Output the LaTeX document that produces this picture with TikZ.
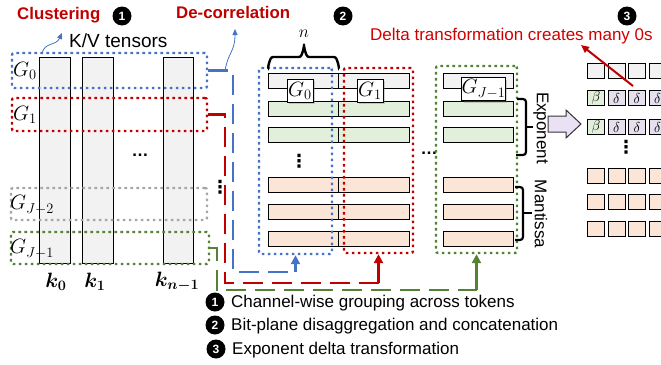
\documentclass[tikz,border=0pt]{standalone}
\usepackage[no-math]{fontspec}
\setmainfont{Liberation Sans}
\newfontfamily\dejavu{DejaVu Sans}
\usepackage{bm}
\usetikzlibrary{arrows.meta,shadows,calc}
\definecolor{cblue}{HTML}{4472C4}
\definecolor{cred}{HTML}{C00000}
\definecolor{cgreen}{HTML}{548235}
\definecolor{cgray}{HTML}{A6A6A6}
\definecolor{fgray}{HTML}{F2F2F2}
\definecolor{fgreen}{HTML}{E2EFDA}
\definecolor{forange}{HTML}{FBE5D6}
\definecolor{flav}{HTML}{E6E0EE}
\definecolor{farrow}{HTML}{EBE1F5}
\definecolor{tred}{HTML}{D00000}
\begin{document}
\begin{tikzpicture}[x=1pt,y=-1pt,
  col/.style={draw, line width=1.2pt, fill=fgray, minimum width=31pt, minimum height=206pt, inner sep=0pt, anchor=north west},
  grp/.style={draw, line width=2.4pt, dash pattern=on 2.6pt off 3.4pt, rounded corners=2pt, inner sep=0pt},
  bar/.style={draw, line width=1.3pt, minimum height=15pt, inner sep=0pt, anchor=north west},
  cell/.style={draw, line width=1.2pt, minimum width=17pt, minimum height=15pt, inner sep=0pt, anchor=north west, font=\fontsize{14.4}{14.4}\selectfont},
  lbl/.style={draw, fill=white, line width=0.9pt, inner sep=0pt, minimum height=23pt, font=\fontsize{20.74}{20.74}\selectfont, drop shadow={shadow xshift=2pt, shadow yshift=-2pt, opacity=0.35}},
  glab/.style={font=\fontsize{20.74}{20.74}\selectfont, inner sep=0pt},
  numc/.style={circle, fill=black, text=white, inner sep=0pt, minimum size=19pt, font=\bfseries\fontsize{12}{12}\selectfont},
  conn/.style={line width=2.6pt, dash pattern=on 20pt off 9pt},
  solidtip/.style={line width=2.6pt, -{Triangle[length=9pt,width=9pt]}},
  thinarr/.style={cblue, line width=0.8pt, -{Triangle[length=6pt,width=5pt]}},
  sqbrace/.style={line width=2.2pt, rounded corners=3pt},
  vdot/.style={inner sep=0pt, font=\dejavu\bfseries\fontsize{18}{18}\selectfont},
  txt/.style={inner sep=0pt, font=\fontsize{17}{20}\selectfont}
]
\useasboundingbox (0,0) rectangle (661,364);

% ---------- left panel ----------
\node[col] (k0) at (39,57) {};
\node[col] (k1) at (82,57) {};
\node[col, minimum width=30pt] (k2) at (163,57) {};

\node[grp, draw=cblue, minimum width=195pt, minimum height=35pt] (g0) at (109.5,70.5) {};
\node[grp, draw=cred, minimum width=195pt, minimum height=33pt] (g1) at (109.5,114.5) {};
\node[grp, draw=cgray, minimum width=196pt, minimum height=32pt] (gj2) at (109,204) {};
\node[grp, draw=cgreen, minimum width=198pt, minimum height=32pt] (gj1) at (110,248) {};

\node[glab] (lg0) at (25,71) {$G_0$};
\node[glab] (lg1) at (25,115) {$G_1$};
\node[glab] (lgj2) at (32,205) {$G_{J-2}$};
\node[glab] (lgj1) at (32,249) {$G_{J-1}$};

\node[txt, font=\bfseries\fontsize{17}{17}\selectfont] (hd1) at (140,155) {…};

\node[glab] (lk0) at (56,282) {$\bm{k_0}$};
\node[glab] (lk1) at (95,282) {$\bm{k_1}$};
\node[glab] (lk2) at (177,282) {$\bm{k_{n-1}}$};

\node[txt, anchor=base west, font=\fontsize{19}{19}\selectfont] (kv) at (69,47) {K/V tensors};
\coordinate (kvs) at (42,53);
\coordinate (kve) at (62,33);
\draw[thinarr] (kvs) .. controls (45,42) and (56,46) .. (kve);

\node[txt, anchor=base west, text=cred, font=\bfseries\fontsize{16.8}{17}\selectfont] (clu) at (17,19.5) {Clustering};
\node[numc] (n1) at (122,16) {1};
\node[txt, anchor=base west, text=cred, font=\bfseries\fontsize{16.8}{17}\selectfont] (dec) at (176,18) {De-correlation};
\node[numc] (n2) at (343,16) {2};

\node[vdot] (vd1) at (220,187) {⋮};

% ---------- middle panel ----------
\foreach \yy/\cc [count=\i] in {73/fgray,101/fgreen,127/fgreen,177/forange,204/forange,231/forange}{
  \node[bar, fill=\cc, minimum width=70pt] (a\i) at (268,\yy) {};
  \node[bar, fill=\cc, minimum width=71pt] (b\i) at (338,\yy) {};
  \node[bar, fill=\cc, minimum width=70pt] (c\i) at (443,\yy) {};
}
\node[vdot] (vd2) at (299,161) {⋮};
\node[txt, font=\bfseries\fontsize{17}{17}\selectfont] (hd2) at (429,153) {…};

\node[grp, draw=cblue, minimum width=73pt, minimum height=186pt] (bluebox) at (295.5,161) {};
\node[grp, draw=cred, minimum width=69pt, minimum height=185pt] (redbox) at (378.5,160.5) {};
\node[grp, draw=cgreen, minimum width=81pt, minimum height=187pt] (greenbox) at (476.5,159.5) {};

\node[lbl, minimum width=26pt] (m0) at (300,90.5) {$G_0$};
\node[lbl, minimum width=26pt] (m1) at (370,90.5) {$G_1$};
\node[lbl, minimum width=43pt] (mj) at (483.5,89) {$G_{J-1}$};

% brace n
\draw[line width=2.4pt] (268,67) to[out=-90,in=180] (273,57) -- (299,57) to[out=0,in=90] (304,47) to[out=90,in=180] (309,57) -- (334,57) to[out=0,in=-90] (339,67);
\node[txt, anchor=base, font=\fontsize{18}{18}\selectfont] (nn) at (304,37) {$n$};

% exponent / mantissa braces
\draw[sqbrace] (517,99) -- (526,99) -- (526,155) -- (516,155);
\draw[sqbrace] (526,127) -- (533,127);
\draw[sqbrace] (515,187) -- (523,187) -- (523,240) -- (515,240);
\draw[sqbrace] (523,213) -- (532,213);
\node[txt, rotate=-90] (expo) at (541,128) {Exponent};
\node[txt, rotate=-90] (mant) at (541,214) {Mantissa};

% big arrow
\draw[fill=farrow, draw=black!80, line width=1pt, line join=miter] (548,116) -- (566,116) -- (566,110) -- (581,124) -- (566,138) -- (566,132) -- (548,132) -- cycle;

% ---------- right grid ----------
\foreach \yy/\cc [count=\i] in {63/fgray,168/forange,194/forange,221/forange}{
  \foreach \xx [count=\j] in {587,607.5,628,648.5}{
    \node[cell, fill=\cc] (r\i\j) at (\xx,\yy) {};
  }
}
\foreach \yy [count=\i] in {90,119}{
  \node[cell, fill=fgreen] (d\i1) at (587,\yy) {$\beta$};
  \foreach \xx [count=\j from 2] in {607.5,628,648.5}{
    \node[cell, fill=flav] (d\i\j) at (\xx,\yy) {$\delta$};
  }
}
\node[vdot] (vd3) at (626,147) {⋮};

\node[txt, anchor=base west, text=tred] (delta) at (370,40) {Delta transformation creates many 0s};
\node[numc] (n3) at (627,16) {3};
\coordinate (das) at (633,86);
\coordinate (dae) at (581,45);
\draw[cred, line width=2pt, -{Triangle[length=8pt,width=7pt]}] (das) -- (dae);

% ---------- connectors ----------
\coordinate (bb) at (233,272);
\coordinate (rb) at (225,283);
\coordinate (gb) at (217,290);
\draw[conn, cblue] (g0.east) -| (bb) -- (bluebox.south |- bb);
\draw[solidtip, cblue] (bluebox.south |- bb) -- (bluebox.south);
\draw[conn, cred] (g1.east) -| (rb) -- (redbox.south |- rb);
\draw[solidtip, cred] (redbox.south |- rb) -- (redbox.south);
\draw[conn, cgreen] (gj1.east) -| (gb) -- (greenbox.south |- gb);
\draw[solidtip, cgreen] (greenbox.south |- gb) -- (greenbox.south);

\coordinate (das2) at (225,71);
\coordinate (dae2) at (235,29);
\draw[thinarr] (das2) .. controls (228,52) and (235,52) .. (dae2);

% ---------- legend ----------
\node[numc] (l1) at (215,302) {1};
\node[txt, anchor=base west] (t1) at (231,307) {Channel-wise grouping across tokens};
\node[numc] (l2) at (215,325) {2};
\node[txt, anchor=base west] (t2) at (231,330) {Bit-plane disaggregation and concatenation};
\node[numc] (l3) at (216,349) {3};
\node[txt, anchor=base west] (t3) at (232,354) {Exponent delta transformation};
\end{tikzpicture}
\end{document}
